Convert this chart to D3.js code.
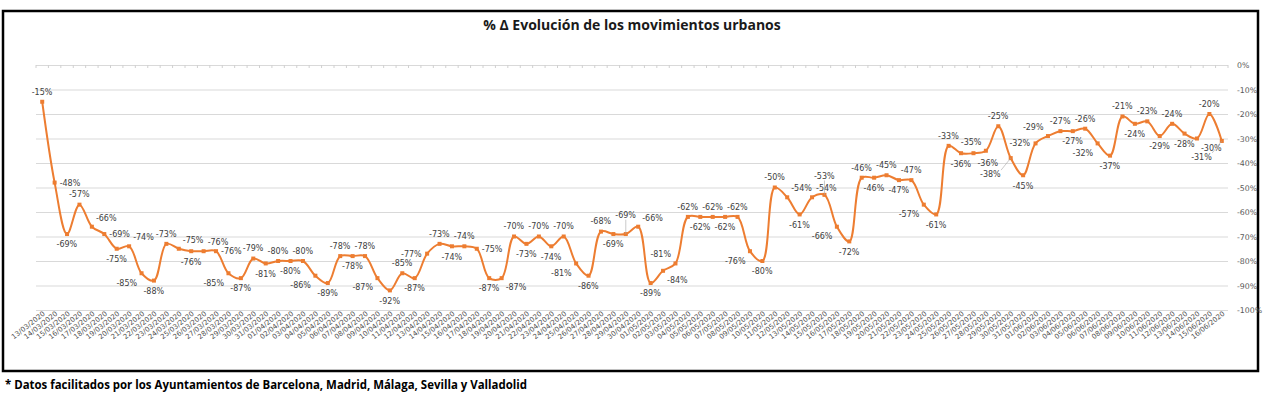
<!DOCTYPE html>
<html>
<head>
<meta charset="utf-8">
<script src="https://cdn.jsdelivr.net/npm/d3@7"></script>
<style>
  body { margin: 0; background: #fff; }
  svg { display: block; }
</style>
</head>
<body>
<div id="chart"></div>
<script>
// Dates (categories)
const dates = [
  "13/03/2020","14/03/2020","15/03/2020","16/03/2020","17/03/2020","18/03/2020","19/03/2020","20/03/2020",
  "21/03/2020","22/03/2020","23/03/2020","24/03/2020","25/03/2020","26/03/2020","27/03/2020","28/03/2020",
  "29/03/2020","30/03/2020","31/03/2020","01/04/2020","02/04/2020","03/04/2020","04/04/2020","05/04/2020",
  "06/04/2020","07/04/2020","08/04/2020","09/04/2020","10/04/2020","11/04/2020","12/04/2020","13/04/2020",
  "14/04/2020","15/04/2020","16/04/2020","17/04/2020","18/04/2020","19/04/2020","20/04/2020","21/04/2020",
  "22/04/2020","23/04/2020","24/04/2020","25/04/2020","26/04/2020","27/04/2020","28/04/2020","29/04/2020",
  "30/04/2020","01/05/2020","02/05/2020","03/05/2020","04/05/2020","05/05/2020","06/05/2020","07/05/2020",
  "08/05/2020","09/05/2020","10/05/2020","11/05/2020","12/05/2020","13/05/2020","14/05/2020","15/05/2020",
  "16/05/2020","17/05/2020","18/05/2020","19/05/2020","20/05/2020","21/05/2020","22/05/2020","23/05/2020",
  "24/05/2020","25/05/2020","26/05/2020","27/05/2020","28/05/2020","29/05/2020","30/05/2020","31/05/2020",
  "01/06/2020","02/06/2020","03/06/2020","04/06/2020","05/06/2020","06/06/2020","07/06/2020","08/06/2020",
  "09/06/2020","10/06/2020","11/06/2020","12/06/2020","13/06/2020","14/06/2020","15/06/2020","16/06/2020"
];

// % change of urban movements
const values = [
  -15, -48, -69, -57, -66, -69, -75, -74, -85, -88, -73, -75, -76, -76, -76, -85,
  -87, -79, -81, -80, -80, -80, -86, -89, -78, -78, -78, -87, -92, -85, -87, -77,
  -73, -74, -74, -75, -87, -87, -70, -73, -70, -74, -70, -81, -86, -68, -69, -69,
  -66, -89, -84, -81, -62, -62, -62, -62, -62, -76, -80, -50, -54, -61, -54, -53,
  -66, -72, -46, -46, -45, -47, -47, -57, -61, -33, -36, -36, -35, -25, -38, -45,
  -32, -29, -27, -27, -26, -32, -37, -21, -24, -23, -29, -24, -28, -30, -20, -31
];

// Y axis ticks
const yTicks = [0, -10, -20, -30, -40, -50, -60, -70, -80, -90, -100];

const titleText = "% Δ Evolución de los movimientos urbanos";
const noteText = "* Datos facilitados por los Ayuntamientos de Barcelona, Madrid, Málaga, Sevilla y Valladolid";

const W = 1268, H = 396;
const plot = {left: 36, right: 1228, top: 65, bottom: 310};
const orange = "#ED7D31";

const svg = d3.select("#chart").append("svg")
    .attr("width", W)
    .attr("height", H);

// Chart frame
svg.append("rect")
    .attr("x", 3).attr("y", 11)
    .attr("width", 1255).attr("height", 360)
    .attr("fill", "#fff")
    .attr("stroke", "#000")
    .attr("stroke-width", 2.5);

// Scales
const x = d3.scalePoint()
    .domain(dates)
    .range([plot.left, plot.right])
    .padding(0.5);

const xb = d3.scaleBand()
    .domain(dates)
    .range([plot.left, plot.right]);

const y = d3.scaleLinear()
    .domain([-100, 0])
    .range([plot.bottom, plot.top]);

// Gridlines + right axis labels
const yAxis = svg.append("g")
    .attr("transform", `translate(${plot.right},0)`)
    .call(d3.axisRight(y)
        .tickValues(yTicks)
        .tickSize(-(plot.right - plot.left))
        .tickPadding(9)
        .tickFormat(d => d + "%"));

yAxis.select(".domain").remove();
yAxis.selectAll(".tick line")
    .attr("stroke", "#d9d9d9")
    .attr("stroke-width", 1);
yAxis.selectAll(".tick text")
    .attr("fill", "#595959")
    .style("font-family", "DejaVu Sans, Verdana, sans-serif")
    .style("font-size", "7.8px");

// Category axis line sits at 0% with small tick marks
svg.append("g")
    .selectAll("line")
    .data(dates.concat([null]))
    .enter().append("line")
    .attr("x1", d => d ? xb(d) : plot.right)
    .attr("x2", d => d ? xb(d) : plot.right)
    .attr("y1", y(0))
    .attr("y2", y(0) + 3)
    .attr("stroke", "#d0d0d0")
    .attr("stroke-width", 1);

// Date labels below the plot
const xAxis = svg.append("g")
    .attr("transform", `translate(0,${plot.bottom + 2})`)
    .call(d3.axisBottom(x).tickSize(0).tickPadding(0));

xAxis.select(".domain").remove();
xAxis.selectAll(".tick text")
    .attr("fill", "#505050")
    .style("font-family", "DejaVu Sans, Verdana, sans-serif")
    .style("font-size", "7px")
    .attr("text-anchor", "end")
    .attr("dy", "0.55em")
    .attr("dx", "0.1em")
    .attr("y", 0)
    .attr("transform", "rotate(-38)");

// Smoothed line
const line = d3.line()
    .x((d, i) => x(dates[i]))
    .y(d => y(d))
    .curve(d3.curveCatmullRom.alpha(0.5));

const path = svg.append("path")
    .datum(values)
    .attr("fill", "none")
    .attr("stroke", orange)
    .attr("stroke-width", 2)
    .attr("d", line);

// Markers
svg.append("g")
    .selectAll("rect")
    .data(values)
    .enter().append("rect")
    .attr("x", (d, i) => x(dates[i]) - 2)
    .attr("y", d => y(d) - 2)
    .attr("width", 4)
    .attr("height", 4)
    .attr("fill", orange);

// Sample the drawn curve so labels can stay off it
const pathNode = path.node();
const total = pathNode.getTotalLength();
const curvePts = [];
for (let l = 0; l <= total; l += 2) {
  const p = pathNode.getPointAtLength(l);
  curvePts.push([p.x, p.y]);
}

// Data labels, placed greedily to avoid the line and each other
const labelG = svg.append("g");
const leaderG = svg.append("g");
const placed = [];

const offs = {
  t:  [0, -6, "middle", "b"],
  b:  [0, 6, "middle", "t"],
  r:  [5, 0, "start", "m"],
  l:  [-5, 0, "end", "m"],
  tr: [4, -5, "start", "b"],
  tl: [-4, -5, "end", "b"],
  br: [4, 5, "start", "t"],
  bl: [-4, 5, "end", "t"]
};

function boxFor(px, py, key, w, h, far) {
  const o = offs[key];
  const k = far ? 2.4 : 1;
  const ax = px + o[0] * k, ay = py + o[1] * k;
  let x0 = o[2] === "start" ? ax : o[2] === "end" ? ax - w : ax - w / 2;
  let y0 = o[3] === "b" ? ay - h : o[3] === "t" ? ay : ay - h / 2;
  return {x: x0, y: y0, w: w, h: h, ax: ax, ay: ay, far: far};
}

function overlaps(a, b) {
  return a.x < b.x + b.w && b.x < a.x + a.w && a.y < b.y + b.h && b.y < a.y + a.h;
}

function hitsCurve(bx) {
  const pad = 0.5;
  return curvePts.some(p => p[0] > bx.x - pad && p[0] < bx.x + bx.w + pad &&
                            p[1] > bx.y - pad && p[1] < bx.y + bx.h + pad);
}

values.forEach((v, i) => {
  const px = x(dates[i]), py = y(v);
  const prev = i > 0 ? values[i - 1] : v;
  const next = i < values.length - 1 ? values[i + 1] : v;

  let order;
  if (v >= prev && v >= next && (v > prev || v > next)) order = ["t", "tl", "tr", "l", "r", "b", "bl", "br"];
  else if (v <= prev && v <= next && (v < prev || v < next)) order = ["b", "bl", "br", "r", "l", "t", "tl", "tr"];
  else if (prev > next) order = ["r", "tr", "bl", "l", "t", "b", "br", "tl"];
  else if (prev < next) order = ["l", "tl", "br", "r", "t", "b", "bl", "tr"];
  else order = ["t", "b", "r", "l", "tr", "br", "tl", "bl"];

  const txt = labelG.append("text")
      .attr("fill", "#404040")
      .style("font-family", "DejaVu Sans, Verdana, sans-serif")
      .style("font-size", "8px")
      .text(v + "%");
  const bb = txt.node().getBBox();
  const w = bb.width, h = 8.5;

  let chosen = null;
  for (const far of [false, true]) {
    for (const key of order) {
      const bx = boxFor(px, py, key, w, h, far);
      if (bx.x < plot.left - 34 || bx.x + bx.w > plot.right + 4) continue;
      if (bx.y < 66) continue;
      if (hitsCurve(bx)) continue;
      if (placed.some(p => overlaps(p, bx))) continue;
      chosen = bx;
      break;
    }
    if (chosen) break;
  }
  if (!chosen) chosen = boxFor(px, py, order[0], w, h, false);
  placed.push(chosen);

  txt.attr("x", chosen.x).attr("y", chosen.y + chosen.h - 1.2);

  if (chosen.far) {
    const cx = Math.max(chosen.x, Math.min(px, chosen.x + chosen.w));
    const cy = Math.max(chosen.y, Math.min(py, chosen.y + chosen.h));
    leaderG.append("line")
        .attr("x1", px).attr("y1", py)
        .attr("x2", cx).attr("y2", cy)
        .attr("stroke", "#a6a6a6")
        .attr("stroke-width", 0.6);
  }
});

// Title
svg.append("text")
    .attr("x", 632)
    .attr("y", 30)
    .attr("text-anchor", "middle")
    .attr("fill", "#1a1a1a")
    .style("font-family", "Open Sans, Lato, sans-serif")
    .style("font-weight", "bold")
    .style("font-size", "14px")
    .text(titleText);

// Source note under the frame
svg.append("text")
    .attr("x", 5)
    .attr("y", 389)
    .attr("fill", "#000")
    .style("font-family", "Liberation Sans Narrow, Open Sans, sans-serif")
    .style("font-weight", "bold")
    .style("font-size", "13px")
    .attr("textLength", 522)
    .attr("lengthAdjust", "spacingAndGlyphs")
    .text(noteText);
</script>
</body>
</html>
